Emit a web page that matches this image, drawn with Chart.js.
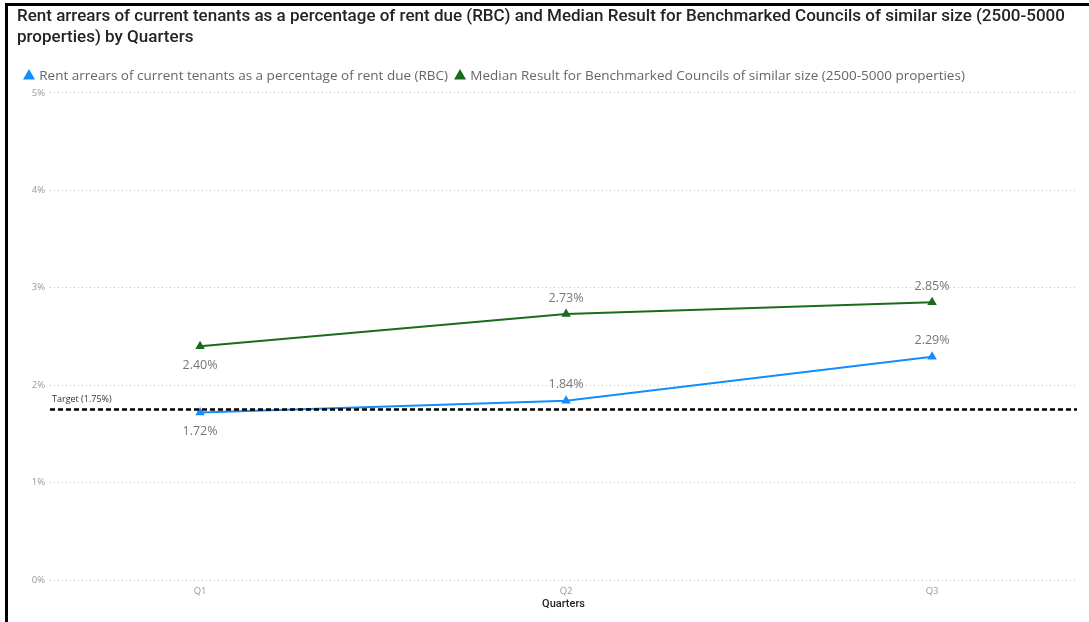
<!DOCTYPE html>
<html>
<head>
<meta charset="utf-8">
<title>Rent arrears by quarter</title>
<script src="https://cdn.jsdelivr.net/npm/chart.js@4.4.1/dist/chart.umd.min.js"></script>
<style>
  html, body { margin: 0; padding: 0; background: #fff; }
  #frame {
    position: absolute; left: 5px; top: 3px; right: 0; bottom: 0;
    border-left: 3px solid #000; border-top: 3px solid #000;
  }
  #wrap { position: absolute; left: 0; top: 0; width: 1089px; height: 622px; }
</style>
</head>
<body>
<div id="frame"></div>
<div id="wrap"><canvas id="chart" width="1089" height="622"></canvas></div>
<script>
// Quarter categories and series values (percent)
const quarters = ['Q1', 'Q2', 'Q3'];
const rbcArrears = [1.72, 1.84, 2.29];
const benchmarkMedian = [2.40, 2.73, 2.85];
const targetValue = 1.75;
const yTicks = [0, 1, 2, 3, 4, 5];

const blue = '#118DFF';
const green = '#1A6B1E';

const toPoints = (vals) => vals.map((v, i) => ({ x: i, y: v }));

// Dashed target line with its caption
const targetLine = {
  id: 'targetLine',
  afterDatasetsDraw(chart) {
    const { ctx, chartArea, scales } = chart;
    const y = scales.y.getPixelForValue(targetValue);
    ctx.save();
    ctx.strokeStyle = '#000';
    ctx.lineWidth = 2.5;
    ctx.setLineDash([5, 3]);
    ctx.beginPath();
    ctx.moveTo(chartArea.left, y);
    ctx.lineTo(chartArea.right, y);
    ctx.stroke();
    ctx.setLineDash([]);
    ctx.fillStyle = '#333';
    ctx.font = '9px "Open Sans"';
    ctx.textBaseline = 'middle';
    ctx.textAlign = 'left';
    ctx.fillText('Target (' + targetValue.toFixed(2) + '%)', chartArea.left + 2, y - 10);
    ctx.restore();
  }
};

// Value labels next to each point
const valueLabels = {
  id: 'valueLabels',
  afterDatasetsDraw(chart, args, opts) {
    const { ctx } = chart;
    ctx.save();
    ctx.font = '12.5px "Open Sans"';
    ctx.fillStyle = '#777';
    ctx.textAlign = 'center';
    ctx.textBaseline = 'middle';
    chart.data.datasets.forEach((ds, di) => {
      const meta = chart.getDatasetMeta(di);
      meta.data.forEach((pt, i) => {
        const below = opts.below[di][i];
        const dy = below ? 19 : -16;
        ctx.fillText(ds.data[i].y.toFixed(2) + '%', pt.x, pt.y + dy);
      });
    });
    ctx.restore();
  }
};

new Chart(document.getElementById('chart'), {
  type: 'line',
  data: {
    datasets: [
      {
        label: 'Rent arrears of current tenants as a percentage of rent due (RBC)',
        data: toPoints(rbcArrears),
        borderColor: blue,
        backgroundColor: blue,
        borderWidth: 2,
        pointStyle: 'triangle',
        pointRadius: 3.5,
        pointHoverRadius: 3.5,
        tension: 0
      },
      {
        label: 'Median Result for Benchmarked Councils of similar size (2500-5000 properties)',
        data: toPoints(benchmarkMedian),
        borderColor: green,
        backgroundColor: green,
        borderWidth: 2,
        pointStyle: 'triangle',
        pointRadius: 3.5,
        pointHoverRadius: 3.5,
        tension: 0
      }
    ]
  },
  options: {
    responsive: false,
    animation: false,
    layout: { padding: { left: 17, right: 12, top: 7, bottom: 0 } },
    plugins: {
      title: {
        display: true,
        align: 'start',
        text: [
          'Rent arrears of current tenants as a percentage of rent due (RBC) and Median Result for Benchmarked Councils of similar size (2500-5000',
          'properties) by Quarters'
        ],
        color: '#252423',
        font: { family: 'Roboto', size: 17, weight: '500', lineHeight: 1.2 },
        padding: { top: 0, bottom: 13 }
      },
      legend: {
        align: 'start',
        labels: {
          usePointStyle: true,
          pointStyle: 'triangle',
          boxWidth: 7,
          boxHeight: 7,
          padding: 8.5,
          color: '#666',
          font: { family: 'Open Sans', size: 13.5 }
        }
      },
      tooltip: { enabled: false },
      valueLabels: {
        below: [[true, false, false], [true, false, false]]
      }
    },
    scales: {
      x: {
        type: 'linear',
        min: -0.41,
        max: 2.396,
        afterBuildTicks(axis) {
          axis.ticks = quarters.map((q, i) => ({ value: i }));
        },
        afterFit(axis) { axis.height = 42; },
        ticks: {
          callback: (v) => quarters[v],
          color: '#999',
          font: { family: 'Open Sans', size: 9.5 },
          padding: 6
        },
        grid: { display: false, drawTicks: false },
        border: { display: false },
        title: {
          display: true,
          text: 'Quarters',
          color: '#252423',
          font: { family: 'Roboto', size: 11, weight: '500' },
          padding: { top: 0, bottom: 11 }
        }
      },
      y: {
        min: 0,
        max: 5,
        afterBuildTicks(axis) {
          axis.ticks = yTicks.map((v) => ({ value: v }));
        },
        afterFit(axis) { axis.width = 33; },
        ticks: {
          callback: (v) => v + '%',
          color: '#999',
          font: { family: 'Open Sans', size: 9.5 },
          padding: 5
        },
        grid: { color: '#c4c4c4', lineWidth: 1, drawTicks: false },
        border: { display: false, dash: [1, 3] }
      }
    }
  },
  plugins: [targetLine, valueLabels]
});
</script>
</body>
</html>
